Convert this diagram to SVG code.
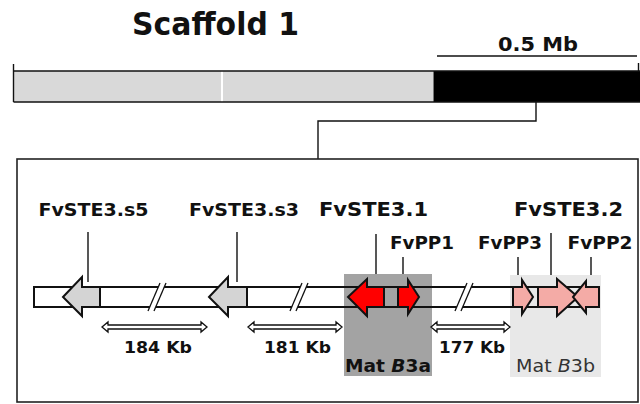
<svg xmlns="http://www.w3.org/2000/svg" width="640" height="404" viewBox="0 0 640 404">
<style>
.t{font-family:"DejaVu Sans",Verdana,sans-serif;font-weight:bold;fill:#111;text-anchor:middle}
.ln{stroke:#111;stroke-width:1.4;fill:none}
.gene{stroke:#111;stroke-width:2;stroke-linejoin:miter}
.gray{fill:#d4d4d4}.red{fill:#ff0000}.pink{fill:#f4aba6}
.dist{fill:#fff;stroke:#111;stroke-width:1.3}
</style>
<rect width="640" height="404" fill="#fff"/>
<g id="title"><text class="t" x="215.5" y="35" font-size="32" textLength="167" lengthAdjust="spacingAndGlyphs">Scaffold 1</text></g>
<g id="scalebar">
<line class="ln" x1="437" y1="56" x2="637" y2="56"/>
<text class="t" x="538" y="51" font-size="19" textLength="80" lengthAdjust="spacingAndGlyphs">0.5 Mb</text>
</g>
<g id="scaffold">
<rect x="13.5" y="71" width="420" height="31" fill="#d9d9d9"/>
<rect x="221" y="71" width="2" height="31" fill="#fff"/>
<rect x="433.5" y="71" width="207" height="31" fill="#000"/>
<line class="ln" x1="13.5" y1="71" x2="640" y2="71"/>
<line class="ln" x1="13.5" y1="102" x2="640" y2="102"/>
<line class="ln" x1="13.5" y1="64" x2="13.5" y2="102"/>
<line class="ln" x1="638.5" y1="63" x2="638.5" y2="71"/>
</g>
<g id="connectors">
<polyline class="ln" points="536,102 536,121 318,121 318,159"/>
<line class="ln" x1="88" y1="232" x2="88" y2="282"/>
<line class="ln" x1="237" y1="232" x2="237" y2="282"/>
<line class="ln" x1="376" y1="234" x2="376" y2="283"/>
<line class="ln" x1="403" y1="257" x2="403" y2="282"/>
<line class="ln" x1="518" y1="257" x2="518" y2="282"/>
<line class="ln" x1="551" y1="233" x2="551" y2="282"/>
<line class="ln" x1="591" y1="257" x2="591" y2="282"/>
</g>
<g id="zoombox"><rect x="17" y="159" width="621" height="243" fill="none" stroke="#222" stroke-width="1.6"/></g>
<g id="matB3a">
<rect x="344" y="274" width="88" height="102" fill="#a3a3a3"/>
<text class="t" x="388" y="372" font-size="18" textLength="86" lengthAdjust="spacingAndGlyphs">Mat <tspan font-style="italic">B</tspan>3a</text>
</g>
<g id="matB3b">
<rect x="510" y="275" width="91" height="102" fill="#e8e8e8"/>
<text x="555.5" y="372" font-family="DejaVu Sans,Verdana,sans-serif" font-size="18" fill="#333" text-anchor="middle" textLength="79" lengthAdjust="spacingAndGlyphs">Mat <tspan font-style="italic">B</tspan>3b</text>
</g>
<g id="chromosome">
<rect x="34" y="287" width="310" height="20" fill="#fff"/>
<rect x="432" y="287" width="78" height="20" fill="#fff"/>
<path d="M34,287 H599 M34,307 H599 M34,286 V308" stroke="#111" stroke-width="2" fill="none"/>
<g stroke="#111" stroke-width="1.3">
<polygon points="148,311 160,283 166,283 154,311" fill="#fff" stroke="none"/>
<line x1="148" y1="311" x2="160" y2="283"/><line x1="154" y1="311" x2="166" y2="283"/>
<polygon points="290,311 302,283 308,283 296,311" fill="#fff" stroke="none"/>
<line x1="290" y1="311" x2="302" y2="283"/><line x1="296" y1="311" x2="308" y2="283"/>
<polygon points="455,311 467,283 473,283 461,311" fill="#fff" stroke="none"/>
<line x1="455" y1="311" x2="467" y2="283"/><line x1="461" y1="311" x2="473" y2="283"/>
</g>
</g>
<g id="FvSTE3.s5">
<polygon class="gene gray" points="63,297 82,277 82,287 100,287 100,307 82,307 82,316"/>
<text class="t" x="93.5" y="216" font-size="18.5" textLength="110" lengthAdjust="spacingAndGlyphs">FvSTE3.s5</text>
</g>
<g id="FvSTE3.s3">
<polygon class="gene gray" points="209,297 228,277 228,287 247,287 247,307 228,307 228,316"/>
<text class="t" x="244" y="216" font-size="18.5" textLength="110" lengthAdjust="spacingAndGlyphs">FvSTE3.s3</text>
</g>
<g id="FvSTE3.1">
<polygon class="gene red" points="348,297 367,279 367,287 384,287 384,307 367,307 367,316"/>
<text class="t" x="373.5" y="216" font-size="20" textLength="109" lengthAdjust="spacingAndGlyphs">FvSTE3.1</text>
</g>
<g id="FvPP1">
<polygon class="gene red" points="398,287 408,287 408,280 419,297 408,314 408,307 398,307"/>
<text class="t" x="422" y="249" font-size="18.5" textLength="64" lengthAdjust="spacingAndGlyphs">FvPP1</text>
</g>
<g id="FvPP3">
<polygon class="gene pink" points="513,287 522,287 522,280 533,297 522,314 522,307 513,307"/>
<text class="t" x="510" y="249" font-size="18.5" textLength="64" lengthAdjust="spacingAndGlyphs">FvPP3</text>
</g>
<g id="FvSTE3.2">
<polygon class="gene pink" points="538,287 557,287 557,279 578,297 557,316 557,307 538,307"/>
<text class="t" x="568.5" y="216" font-size="20" textLength="109" lengthAdjust="spacingAndGlyphs">FvSTE3.2</text>
</g>
<g id="FvPP2">
<polygon class="gene pink" points="573,297 586,281 586,287 599,287 599,307 586,307 586,313"/>
<text class="t" x="600" y="249" font-size="18.5" textLength="65" lengthAdjust="spacingAndGlyphs">FvPP2</text>
</g>
<g id="dist184">
<polygon class="dist" points="102,327 108,322 108,325 201,325 201,322 207,327 201,332 201,329 108,329 108,332"/>
<text class="t" x="158" y="353" font-size="15" textLength="68" lengthAdjust="spacingAndGlyphs">184 Kb</text>
</g>
<g id="dist181">
<polygon class="dist" points="248,327 254,322 254,325 336,325 336,322 342,327 336,332 336,329 254,329 254,332"/>
<text class="t" x="297.5" y="353" font-size="15" textLength="67" lengthAdjust="spacingAndGlyphs">181 Kb</text>
</g>
<g id="dist177">
<polygon class="dist" points="431,327 437,322 437,325 504,325 504,322 510,327 504,332 504,329 437,329 437,332"/>
<text class="t" x="472" y="353" font-size="15" textLength="66" lengthAdjust="spacingAndGlyphs">177 Kb</text>
</g>
</svg>
